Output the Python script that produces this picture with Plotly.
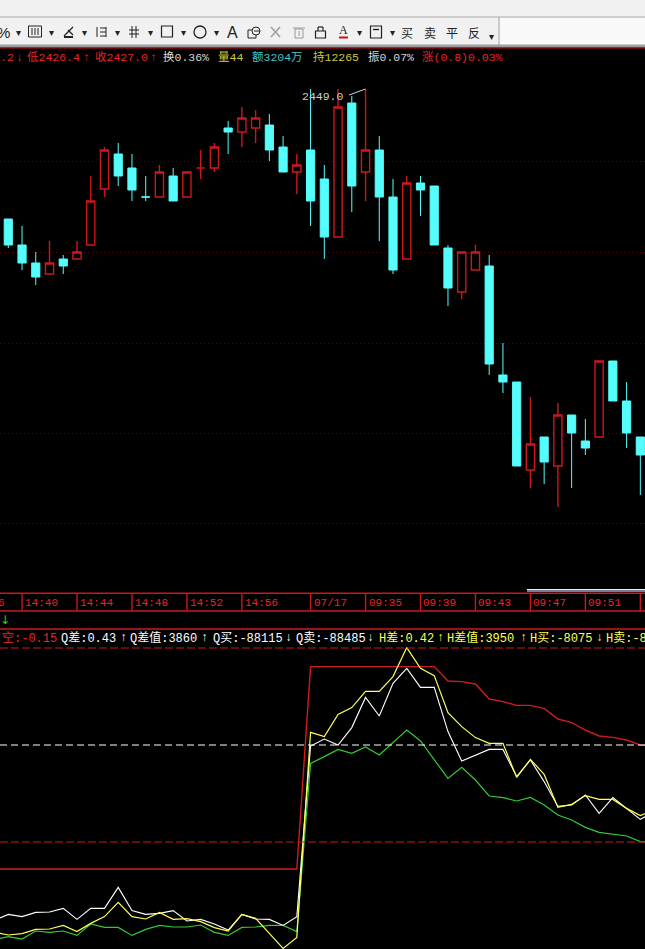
import plotly.graph_objects as go

# ---------- data ----------
opens = [2436.0,2433.4,2431.6,2430.5,2432.0,2432.0,2433.4,2439.0,2442.5,2441.1,2438.2,2438.2,2440.3,2438.2,2441.1,2441.1,
         2445.1,2444.7,2445.1,2445.4,2443.2,2440.7,2442.9,2440.0,2434.2,2447.6,2440.7,2442.9,2438.2,2432.0,2439.6,2439.3,
         2433.1,2428.7,2430.9,2431.3,2420.4,2419.7,2410.9,2414.2,2411.3,2416.4,2413.8,2414.2,2421.8,2417.8,2414.2]
closes = [2433.4,2431.6,2430.2,2431.6,2431.3,2432.7,2437.8,2442.9,2440.3,2438.9,2438.2,2440.7,2437.8,2440.7,2441.1,2443.2,
          2444.7,2446.1,2446.1,2442.9,2440.7,2441.4,2437.8,2434.2,2447.2,2439.3,2442.9,2438.2,2430.9,2439.6,2438.9,2433.4,
          2429.1,2432.7,2432.7,2421.5,2419.7,2411.3,2413.5,2411.7,2416.4,2414.6,2413.1,2421.8,2417.8,2414.6,2412.4]
highs = [2436.0,2435.3,2432.7,2433.8,2432.4,2433.8,2440.3,2443.2,2443.6,2442.5,2440.3,2441.4,2441.1,2440.7,2442.9,2443.6,
         2445.8,2447.2,2446.9,2446.5,2444.3,2442.5,2449.0,2441.4,2449.0,2448.3,2449.0,2444.3,2440.0,2440.3,2440.3,2439.3,
         2433.4,2432.7,2433.4,2432.4,2423.6,2419.7,2418.2,2414.2,2417.6,2416.4,2416.0,2421.8,2421.8,2419.7,2414.2]
lows = [2433.1,2430.9,2429.4,2430.5,2430.5,2432.0,2433.4,2438.2,2439.3,2437.8,2437.8,2438.2,2437.8,2438.2,2440.0,2440.7,
        2442.5,2443.2,2443.6,2441.8,2440.7,2438.5,2435.3,2432.0,2434.2,2436.7,2437.8,2433.8,2430.5,2432.0,2436.3,2433.4,
        2427.3,2428.0,2430.9,2420.4,2418.6,2411.3,2409.1,2409.5,2407.2,2409.1,2412.4,2414.2,2417.8,2413.1,2408.4]
up_flags = [0,0,0,1,0,1,1,1,0,0,0,1,0,1,1,1,0,1,1,0,0,1,0,0,1,0,1,0,0,1,0,0,0,1,1,0,0,0,1,0,1,0,0,1,0,0,0]

grid_prices = [2441.8,2432.7,2423.6,2414.6,2405.6]
peak_index, peak_price = 26, 2449.0

line_index = list(range(-1,48))
red_line = [-13.5]*23 + [87.7]*10 + [80.5,80.2,79.0,71.5,70.2,68.3,68.3,66.8,61.5,59.7,56.0,53.0,52.3,51.0,48.5,48.2]
yellow_line = [-45.2,-46.5,-45.8,-43.7,-43.5,-41.7,-44.8,-40.7,-37.3,-30.2,-37.3,-38.5,-35.2,-38.7,-38.3,-39.8,-42.8,-44.5,-36.2,-38.2,-45.7,-53.2,-47.7,
               54.8,52.7,63.8,67.2,75.3,75.3,82.7,97.2,86.8,83.2,64.7,57.7,52.2,49.3,49.3,32.3,41.3,33.8,17.3,18.8,23.2,21.3,21.3,16.8,13.2,16.0]
white_line = [-39.0,-36.2,-37.3,-35.2,-35.0,-33.2,-38.7,-33.2,-33.2,-22.7,-34.3,-36.2,-35.7,-34.3,-39.5,-38.7,-41.0,-44.0,-36.2,-38.5,-38.7,-41.7,-37.3,
              48.0,51.5,48.5,57.2,72.3,63.0,79.3,86.8,77.3,77.3,55.2,40.5,43.5,46.3,46.3,32.7,41.0,30.2,17.8,18.5,23.5,14.3,22.2,16.8,11.3,15.2]
green_line = [-48.7,-47.3,-48.5,-44.5,-45.2,-44.5,-46.7,-41.0,-42.7,-42.7,-46.7,-43.7,-41.7,-42.5,-42.5,-41.5,-45.2,-46.7,-42.7,-42.5,-41.7,-41.7,-44.8,
              39.3,42.7,46.3,44.3,47.5,43.5,49.7,56.0,50.5,41.0,31.8,37.3,31.0,23.0,22.2,20.5,22.3,18.5,13.5,11.0,7.3,4.8,4.0,3.0,0.2,-0.2]
level_white = 48.5
levels_red = [97.0, 0.0]

tick_index = [1,5,9,13,17,22,26,30,34,38,42,46]
tick_labels = ["14:40","14:44","14:48","14:52","14:56","07/17","09:35","09:39","09:43","09:47","09:51",""]

RED, CYAN = "#cc181c", "#55fdfd"
BRIGHT = "#e8242a"
W, H = 645, 949
MONO = "Liberation Mono, Noto Sans CJK SC, monospace"
CJK = "Noto Sans CJK SC, Liberation Mono, sans-serif"

def px(x): return x / W
def py(y): return 1 - y / H

fig = go.Figure()

def candles(idx, color, fill, lw):
    fig.add_trace(go.Candlestick(
        x=idx, open=[opens[i] for i in idx], close=[closes[i] for i in idx],
        high=[highs[i] for i in idx], low=[lows[i] for i in idx],
        increasing=dict(line=dict(color=color, width=lw), fillcolor=fill),
        decreasing=dict(line=dict(color=color, width=lw), fillcolor=fill),
        whiskerwidth=0, showlegend=False, hoverinfo="skip"))

all_idx = list(range(len(opens)))
candles([i for i in all_idx if up_flags[i]], RED, "#000000", 1.4)
candles([i for i in all_idx if not up_flags[i]], CYAN, CYAN, 1)

for vals, col, lw in [(red_line, "#cc1c20", 1.4), (green_line, "#35c935", 1.2), (white_line, "#ffffff", 1.1), (yellow_line, "#ffff55", 1.2)]:
    fig.add_trace(go.Scatter(x=line_index, y=vals, mode="lines", line=dict(color=col, width=lw),
                             yaxis="y2", showlegend=False, hoverinfo="skip"))

shapes, annos = [], []

def rect(x0, y0, x1, y1, fill, line=None, lw=1):
    shapes.append(dict(type="rect", xref="paper", yref="paper", x0=px(x0), x1=px(x1), y0=py(y0), y1=py(y1),
                       fillcolor=fill, line=dict(color=line or fill, width=lw if line else 0)))

def seg(x0, y0, x1, y1, color, w=1, dash="solid"):
    shapes.append(dict(type="line", xref="paper", yref="paper", x0=px(x0), x1=px(x1), y0=py(y0), y1=py(y1),
                       line=dict(color=color, width=w, dash=dash)))

def text(x, y, s, color, size=11.5, family=MONO, anchor="left"):
    annos.append(dict(xref="paper", yref="paper", x=px(x), y=py(y), text=s, showarrow=False, xanchor=anchor,
                      yanchor="middle", borderpad=0, borderwidth=0,
                      font=dict(color=color, size=size, family=family)))

# toolbar chrome
rect(0, 0, 645, 46, "#f1f1f1")
rect(500, 18, 645, 46, "#f9f9f9")
seg(0, 17, 645, 17, "#ababab")
seg(499, 17, 499, 46, "#a5a5a5")
rect(0, 44.5, 645, 47, "#9e9e9e")
seg(0, 47.7, 645, 47.7, "#c8141a", 1.4)

ICON = "#222222"
def tri(x, y=32):
    text(x, y, "▾", "#222222", 10, "DejaVu Sans", "center")
for x in [18, 51, 84, 117, 150, 183, 216, 359, 392]:
    tri(x)
text(491, 37, "▾", "#222222", 10, "DejaVu Sans", "center")
text(3, 32, "%", ICON, 15, "Liberation Sans", "center")
rect(28.5, 26, 41.5, 37, "rgba(0,0,0,0)", ICON)
for x in [32, 35, 38]:
    seg(x, 28, x, 35, ICON)
seg(64, 37, 73, 37, ICON, 2)
seg(64, 36, 73, 27, ICON, 1.3)
seg(68, 30, 73, 35, ICON, 1.2)
seg(97, 27, 97, 37, ICON)
for y in [28, 32, 36]:
    seg(100, y, 106, y, ICON)
seg(106, 27, 106, 37, ICON)
for x in [132, 136]:
    seg(x, 26, x, 38, ICON)
for y in [30, 34]:
    seg(129, y, 139, y, ICON)
rect(161.5, 26, 172.5, 37, "rgba(0,0,0,0)", ICON, 1.2)
shapes.append(dict(type="circle", xref="paper", yref="paper", x0=px(194), x1=px(206), y0=py(38), y1=py(26),
                   line=dict(color=ICON, width=1.3)))
text(232, 32, "A", ICON, 16, "Liberation Sans", "center")
shapes.append(dict(type="rect", xref="paper", yref="paper", x0=px(248), x1=px(256), y0=py(38), y1=py(30),
                   line=dict(color=ICON, width=1)))
shapes.append(dict(type="circle", xref="paper", yref="paper", x0=px(252), x1=px(260), y0=py(35), y1=py(27),
                   fillcolor="#f1f1f1", line=dict(color=ICON, width=1)))
seg(254, 31, 260, 31, ICON)
seg(271, 27, 280, 37, "#a0a0a0", 1.6)
seg(280, 27, 271, 37, "#a0a0a0", 1.6)
rect(295, 29, 303, 38, "rgba(0,0,0,0)", "#9a9a9a")
seg(293, 28, 305, 28, "#9a9a9a")
seg(299, 31, 299, 36, "#9a9a9a")
rect(315.5, 31, 325.5, 38, "rgba(0,0,0,0)", ICON, 1.2)
seg(318, 31, 318, 27, ICON, 1.2)
seg(323, 31, 323, 27, ICON, 1.2)
seg(318, 27, 323, 27, ICON, 1.2)
text(343.5, 30, "A", ICON, 12, "Liberation Serif", "center")
seg(339, 37.5, 348, 37.5, "#cc1111", 2)
rect(370.5, 26, 381.5, 38, "rgba(0,0,0,0)", ICON, 1.2)
seg(373, 29.5, 379, 29.5, ICON, 1.4)
for x, s in [(407, "买"), (430, "卖"), (452, "平"), (474, "反")]:
    text(x, 32, s, ICON, 12, CJK, "center")

# top info strip
for x, s, c in [(0, ".2", BRIGHT), (16, "↓", BRIGHT), (27, "低2426.4", BRIGHT), (83, "↑", BRIGHT), (95, "收2427.0", BRIGHT),
                (150, "↑", BRIGHT), (163, "换0.36%", "#d8d8d8"), (218, "量44", "#c8c840"), (252, "额3204万", "#45c3c8"),
                (313, "持12265", "#c8c840"), (368, "振0.07%", "#d8d8d8"), (422, "涨(0.8)0.03%", BRIGHT)]:
    text(x, 57, s, c)

# peak label and leader
annos.append(dict(x=24.6, y=2448.3, xref="x", yref="y", text="2449.0", showarrow=False, xanchor="right",
                  yanchor="middle", font=dict(color="#cfcfcf", size=11.5, family=MONO)))
shapes.append(dict(type="line", xref="x", yref="y", x0=peak_index - 1.2, x1=peak_index, y0=peak_price - 0.6, y1=peak_price,
                   line=dict(color="#d8d8d8", width=1)))

# time bar and separators
rect(527, 589, 645, 590.5, "#f0f0f0")
rect(527, 590.5, 645, 592, "#6a7fae")
seg(0, 593.3, 645, 593.3, RED, 1.6)
seg(0, 611, 645, 611, RED, 1.6)
seg(0, 629, 645, 629, RED, 1.6)
for i, lab in zip(tick_index, tick_labels):
    shapes.append(dict(type="line", xref="x", yref="paper", x0=i, x1=i, y0=py(593.3), y1=py(611),
                       line=dict(color=RED, width=1.4)))
    if lab:
        annos.append(dict(x=i, y=py(602.5), xref="x", yref="paper", text=lab, showarrow=False, xanchor="left",
                          xshift=1, yanchor="middle", font=dict(color=BRIGHT, size=11, family=MONO)))
text(-2, 602.5, "6", BRIGHT, 11)
text(0, 619.5, "↓", "#33cc33", 12, "DejaVu Sans", "left")

# indicator legend strip
for x, s, c in [(2, "空:-0.15", BRIGHT), (61, "Q差:0.43", "#ffffff"), (120, "↑", "#ffffff"), (130, "Q差值:3860", "#ffffff"),
                (201, "↑", "#ffffff"), (213, "Q买:-88115", "#ffffff"), (285, "↓", "#ffffff"), (296, "Q卖:-88485", "#ffffff"),
                (367, "↓", "#ffffff"), (379, "H差:0.42", "#ffff55"), (437, "↑", "#ffff55"), (447, "H差值:3950", "#ffff55"),
                (520, "↑", "#ffff55"), (530, "H买:-8075", "#ffff55"), (596, "↓", "#ffff55"), (606, "H卖:-8", "#ffff55")]:
    text(x, 638.3, s, c, 12)

# indicator levels
shapes.append(dict(type="line", xref="paper", yref="y2", x0=0, x1=1, y0=level_white, y1=level_white,
                   line=dict(color="#ffffff", width=1.2, dash="7px,4px")))
for lv in levels_red:
    shapes.append(dict(type="line", xref="paper", yref="y2", x0=0, x1=1, y0=lv, y1=lv,
                       line=dict(color="#c8181c", width=1.2, dash="8px,3px")))

fig.update_layout(
    width=W, height=H, margin=dict(l=0, r=0, t=0, b=0), paper_bgcolor="#000000", plot_bgcolor="#000000",
    showlegend=False, hovermode=False, boxgap=0.15, boxgroupgap=0.3, shapes=shapes, annotations=annos,
    xaxis=dict(range=[-0.604, 46.34], domain=[0, 1], visible=False, rangeslider=dict(visible=False), anchor="y"),
    yaxis=dict(domain=[py(592), py(48)], range=[2457.9 - 59.2, 2457.9 - 4.8], tickvals=grid_prices,
               showticklabels=False, showline=False, zeroline=False, ticks="", showgrid=True,
               gridcolor="#4a0808", griddash="1px,3px", gridwidth=1, anchor="x"),
    yaxis2=dict(domain=[0, py(640)], range=[-53.5, 101], visible=False, anchor="x"),
)
fig.write_html("out.html", config={"displayModeBar": False},
               post_script="document.body.style.margin='0';document.documentElement.style.overflow='hidden';")
